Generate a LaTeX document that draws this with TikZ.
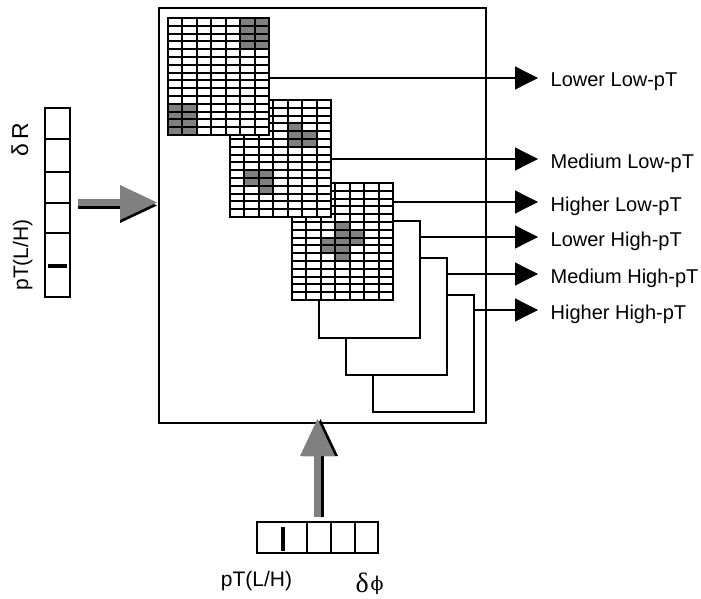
\documentclass[tikz,border=0pt]{standalone}
\usepackage{fontspec}
\setmainfont{Liberation Sans}
\newfontfamily\greekserif{Liberation Serif}
\newfontfamily\phifont{DejaVu Serif}
\usetikzlibrary{arrows.meta}

\begin{document}
\begin{tikzpicture}[
  x=1pt, y=-1pt,
  line width=1.3pt,
  plane/.style={draw, fill=white, minimum width=101pt, minimum height=117pt, inner sep=0pt, outer sep=0pt, anchor=north west},
  hit/.style={fill=black!50},
  cell/.style={line width=1.6pt},
  outlbl/.style={anchor=west, inner xsep=12pt, inner ysep=0pt, text height=22pt, text depth=4pt, font=\fontsize{20}{24}\selectfont},
  outarrow/.style={-{Triangle[length=23pt, width=23pt]}},
  feedarrow/.style={line width=7pt, -{Triangle[length=37pt, width=35pt, line width=0pt]}}
]
\useasboundingbox (0,0) rectangle (701,599);

% Frame
\node[draw, minimum width=327pt, minimum height=415pt, inner sep=0pt, outer sep=0pt, anchor=north west] (frame) at (159,8) {};

% High-pT planes
\node[plane] (b6) at (373,295) {};
\node[plane] (b5) at (346,258) {};
\node[plane] (b4) at (319,221) {};

% Grid 3
\node[plane] (g3) at (292,183) {};
\begin{scope}[shift={(g3.north west)}]
  \foreach \c/\r in {3/5,3/6,3/7,3/8,3/9,4/6,4/7,2/7,2/8}
    \fill[hit] (\c*14.43,\r*7.8) rectangle +(14.43,7.8);
  \foreach \xx in {0,14,29,43,58,72,87,101}
    \draw[cell] (\xx,0) -- (\xx,117);
  \foreach \yy in {0,8,16,23,31,39,47,55,62,70,78,86,94,101,109,117}
    \draw[cell] (0,\yy) -- (101,\yy);
\end{scope}

% Grid 2
\node[plane] (g2) at (230,100) {};
\begin{scope}[shift={(g2.north west)}]
  \foreach \c/\r in {4/3,4/4,4/5,5/4,5/5,1/9,1/10,2/9,2/10,2/11}
    \fill[hit] (\c*14.43,\r*7.8) rectangle +(14.43,7.8);
  \foreach \xx in {0,14,29,43,58,72,87,101}
    \draw[cell] (\xx,0) -- (\xx,117);
  \foreach \yy in {0,8,16,23,31,39,47,55,62,70,78,86,94,101,109,117}
    \draw[cell] (0,\yy) -- (101,\yy);
\end{scope}

% Grid 1
\node[plane] (g1) at (168,18) {};
\begin{scope}[shift={(g1.north west)}]
  \foreach \c/\r in {5/0,5/1,5/2,5/3,6/0,6/1,6/2,6/3,0/11,0/12,0/13,0/14,1/11,1/12,1/13,1/14}
    \fill[hit] (\c*14.43,\r*7.8) rectangle +(14.43,7.8);
  \foreach \xx in {0,14,29,43,58,72,87,101}
    \draw[cell] (\xx,0) -- (\xx,117);
  \foreach \yy in {0,8,16,23,31,39,47,55,62,70,78,86,94,101,109,117}
    \draw[cell] (0,\yy) -- (101,\yy);
\end{scope}

% Outputs
\node[outlbl] (lo1) at (538,78) {Lower Low-pT};
\node[outlbl] (lo2) at (538,159) {Medium Low-pT};
\node[outlbl] (lo3) at (538,202) {Higher Low-pT};
\node[outlbl] (lo4) at (538,237) {Lower High-pT};
\node[outlbl] (lo5) at (538,274) {Medium High-pT};
\node[outlbl] (lo6) at (538,310) {Higher High-pT};

\draw[outarrow] (g1.east |- lo1.west) -- (lo1.west);
\draw[outarrow] (g2.east |- lo2.west) -- (lo2.west);
\draw[outarrow] (g3.east |- lo3.west) -- (lo3.west);
\draw[outarrow] (b4.east |- lo4.west) -- (lo4.west);
\draw[outarrow] (b5.east |- lo5.west) -- (lo5.west);
\draw[outarrow] (b6.east |- lo6.west) -- (lo6.west);

% R input
\node[draw, minimum width=25pt, minimum height=189pt, inner sep=0pt, outer sep=0pt, anchor=north west] (rbar) at (45,108) {};
\foreach \yy in {139,172,203,233}
  \draw (rbar.west |- 0,\yy) -- (rbar.east |- 0,\yy);
\draw[line width=3.5pt] (48,266) -- (67,266);
\node[rotate=90, anchor=base, font=\fontsize{23}{24}\selectfont] (rlbl) at (28,140) {δ\,R};
\node[rotate=90, anchor=base, font=\fontsize{21}{24}\selectfont] (rpt) at (28,255) {pT(L/H)};

% phi input
\node[draw, minimum width=121pt, minimum height=31pt, inner sep=0pt, outer sep=0pt, anchor=north west] (pbar) at (257,522) {};
\foreach \xx in {307,331,355}
  \draw (\xx,0 |- pbar.north) -- (\xx,0 |- pbar.south);
\draw[line width=3.5pt] (283,527) -- (283,551);
\node[anchor=base east, font=\fontsize{21}{24}\selectfont] (ppt) at (296,586) {pT(L/H)};
\node[anchor=base west, inner sep=0pt] (plbl) at (355,592) {{\greekserif\fontsize{28}{28}\selectfont δ}\,{\phifont\fontsize{19}{19}\selectfont\raisebox{2pt}{ϕ}}};

% Feed arrows
\draw[feedarrow, draw=black, shorten <=8pt, shorten >=2pt] ([yshift=-3pt]rbar.east) -- ([yshift=-3pt]frame.west |- rbar);
\draw[feedarrow, draw=black!50, shorten <=8pt, shorten >=2pt] (rbar.east) -- (frame.west |- rbar);
\draw[feedarrow, draw=black, shorten <=5pt, shorten >=-4pt] ([xshift=3pt]pbar.north) -- ([xshift=3pt]frame.south -| pbar);
\draw[feedarrow, draw=black!50, shorten <=5pt, shorten >=-4pt] (pbar.north) -- (frame.south -| pbar);
\end{tikzpicture}
\end{document}
